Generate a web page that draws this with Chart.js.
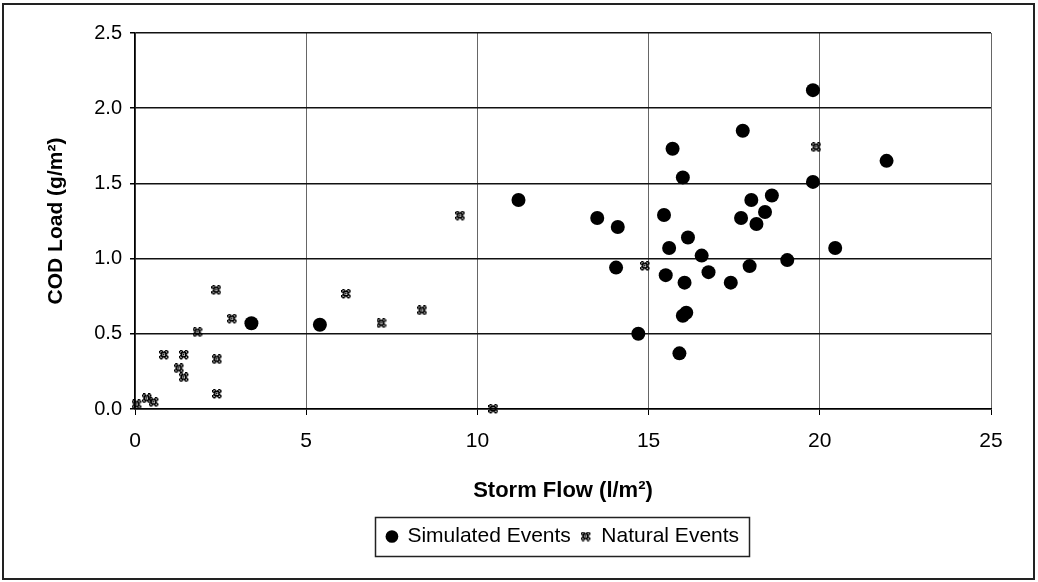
<!DOCTYPE html>
<html>
<head>
<meta charset="utf-8">
<script src="https://cdn.jsdelivr.net/npm/chart.js@4.4.0/dist/chart.umd.min.js"></script>
<style>
  html, body { margin: 0; padding: 0; background: #fff; }
</style>
</head>
<body>
<canvas id="grafico" width="1038" height="582"></canvas>
<script>
// valores
const simX = [3.4, 5.4, 11.2, 19.8, 17.75, 15.7, 16.0, 19.8, 13.5, 14.1, 15.45, 18.0, 18.6, 18.4, 17.7, 18.15,
  16.15, 15.6, 16.55, 20.45, 19.05, 14.05, 15.5, 16.05, 16.75, 17.4, 17.95, 16.0, 16.1, 14.7, 15.9, 21.95];
const simY = [0.57, 0.56, 1.39, 2.12, 1.85, 1.73, 1.54, 1.51, 1.27, 1.21, 1.29, 1.39, 1.42, 1.31, 1.27, 1.23,
  1.14, 1.07, 1.02, 1.07, 0.99, 0.94, 0.89, 0.84, 0.91, 0.84, 0.95, 0.62, 0.64, 0.50, 0.37, 1.65];

const natX = [0.05, 0.35, 0.55, 0.85, 1.29, 1.43, 1.43, 1.83, 2.38, 2.4, 2.4, 2.84, 6.17, 7.2, 8.39, 9.5, 10.47, 14.9, 19.9];
const natY = [0.03, 0.07, 0.045, 0.36, 0.27, 0.36, 0.21, 0.51, 0.79, 0.33, 0.1, 0.6, 0.765, 0.57, 0.655, 1.285, 0.0, 0.95, 1.74];

const xTicks = [0, 5, 10, 15, 20, 25];
const yTicks = [0, 0.5, 1.0, 1.5, 2.0, 2.5];

const FONTE = "'Liberation Sans', Arial, sans-serif";

// marcador hachurado dos eventos naturais
function marcadorNatural() {
  const padrao = [
    ".XX...XX.",
    "X..X.X..X",
    "X.XXXXX.X",
    ".XX...XX.",
    "..X.X.X..",
    ".XX...XX.",
    "X.XXXXX.X",
    "X..X.X..X",
    ".XX...XX."
  ];
  const c = document.createElement("canvas");
  c.width = 10; c.height = 10;
  const g = c.getContext("2d");
  g.fillStyle = "#000";
  padrao.forEach((linha, j) => {
    [...linha].forEach((ch, i) => { if (ch === "X") g.fillRect(i, j, 1.4, 1.4); });
  });
  return c;
}

const moldura = {
  id: "moldura",
  beforeDraw(chart) {
    const ctx = chart.ctx;
    ctx.save();
    ctx.fillStyle = "#fff";
    ctx.fillRect(0, 0, chart.width, chart.height);
    ctx.restore();
  },
  afterLayout(chart) {
    // centraliza a legenda sob a área do gráfico
    const lg = chart.legend, ca = chart.chartArea;
    if (!lg) return;
    const dx = (ca.left + ca.right) / 2 - (lg.left + lg.right) / 2;
    lg.left += dx;
    lg.right += dx;
  },
  afterDraw(chart) {
    const ctx = chart.ctx;
    ctx.save();
    ctx.strokeStyle = "#222";
    ctx.lineWidth = 2;
    ctx.strokeRect(3, 4, 1031, 575);
    // caixa da legenda
    const lg = chart.legend;
    if (lg && lg.legendHitBoxes.length) {
      const hb = lg.legendHitBoxes;
      const ult = hb[hb.length - 1];
      const x0 = hb[0].left - 12;
      const x1 = ult.left + ult.width + 10;
      const y0 = hb[0].top - 9;
      const y1 = hb[0].top + hb[0].height + 9;
      ctx.lineWidth = 1.5;
      ctx.strokeRect(Math.round(x0) + 0.5, Math.round(y0) + 0.5, Math.round(x1 - x0), Math.round(y1 - y0));
    }
    ctx.restore();
  }
};

const ctx = document.getElementById("grafico").getContext("2d");

new Chart(ctx, {
  type: "scatter",
  data: {
    datasets: [
      {
        label: "Simulated Events",
        data: simX.map((x, i) => ({ x, y: simY[i] })),
        pointStyle: "circle",
        pointRadius: 7,
        pointHoverRadius: 7,
        backgroundColor: "#000",
        borderColor: "#000",
        borderWidth: 0,
        clip: false
      },
      {
        label: "Natural Events",
        data: natX.map((x, i) => ({ x, y: natY[i] })),
        pointStyle: marcadorNatural(),
        pointRadius: 5,
        backgroundColor: "#000",
        borderColor: "#000",
        clip: false
      }
    ]
  },
  options: {
    responsive: false,
    animation: false,
    devicePixelRatio: 1,
    layout: { padding: { left: 0, top: 33, right: 47, bottom: 25 } },
    plugins: {
      legend: {
        position: "bottom",
        labels: {
          usePointStyle: true,
          boxWidth: 10,
          boxHeight: 9,
          padding: 10,
          color: "#000",
          font: { family: FONTE, size: 21 }
        }
      },
      tooltip: { enabled: false }
    },
    scales: {
      x: {
        type: "linear",
        min: 0,
        max: 25,
        afterBuildTicks: s => { s.ticks = xTicks.map(v => ({ value: v })); },
        afterFit: s => { s.height = 107; },
        ticks: { color: "#000", padding: 14, font: { family: FONTE, size: 21 } },
        grid: { color: "#666", lineWidth: 1, tickLength: 6, tickColor: "#000" },
        border: { color: "#000", width: 1.5 },
        title: {
          display: true,
          text: "Storm Flow (l/m²)",
          color: "#000",
          font: { family: FONTE, size: 22, weight: "bold" },
          padding: { top: 0, bottom: 12 }
        }
      },
      y: {
        type: "linear",
        min: 0,
        max: 2.5,
        afterBuildTicks: s => { s.ticks = yTicks.map(v => ({ value: v })); },
        afterFit: s => { s.width = 135; },
        ticks: { color: "#000", padding: 8, font: { family: FONTE, size: 20 }, callback: v => v.toFixed(1) },
        grid: { color: "#111", lineWidth: 1.5, tickLength: 5, tickColor: "#000" },
        border: { color: "#000", width: 1.5 },
        title: {
          display: true,
          text: "COD Load (g/m²)",
          color: "#000",
          font: { family: FONTE, size: 21, weight: "bold" },
          padding: { top: 44, bottom: 0 }
        }
      }
    }
  },
  plugins: [moldura]
});
</script>
</body>
</html>
